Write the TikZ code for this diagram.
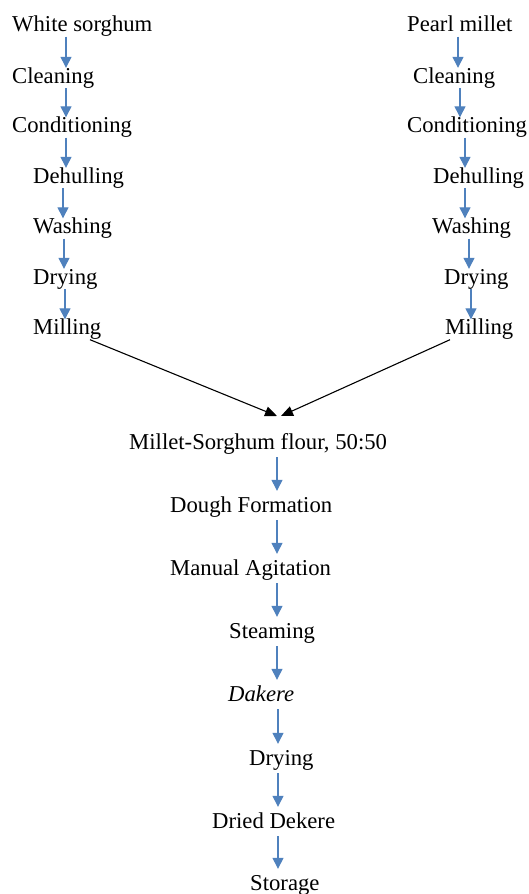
\documentclass[tikz,border=0pt]{standalone}
\usepackage{fontspec}
\setmainfont{Liberation Serif}
\usepackage{xcolor}
\usetikzlibrary{arrows.meta,calc}
\definecolor{flowblue}{HTML}{4F81BD}
\tikzset{
  lbl/.style={inner sep=0pt, anchor=base west, text height=15pt, text depth=5pt,
    font=\fontsize{22.7}{27}\selectfont},
  flow/.style={flowblue, line width=1.3pt, -{Triangle[length=11pt,width=11pt]}},
  cflow/.style={flow, shorten <=3pt, shorten >=6pt},
  merge/.style={black, line width=1.1pt, -{Triangle[length=12pt,width=10pt]}}
}
\begin{document}
\begin{tikzpicture}[x=1pt,y=-1pt]
			\useasboundingbox (0,0) rectangle (529,894);
			\node[lbl] (ws) at (12,31.5) {White sorghum};
			\node[lbl] (cl1) at (12,83) {Cleaning};
			\node[lbl] (co1) at (12,132.5) {Conditioning};
			\node[lbl] (dh1) at (33,183) {Dehulling};
			\node[lbl] (wa1) at (33,233.5) {Washing};
			\node[lbl] (dr1) at (33,284) {Drying};
			\node[lbl] (mi1) at (33,334.5) {Milling};
			\node[lbl] (pm) at (407,31.5) {Pearl millet};
			\node[lbl] (cl2) at (413,83) {Cleaning};
			\node[lbl] (co2) at (407,132.5) {Conditioning};
			\node[lbl] (dh2) at (433,183) {Dehulling};
			\node[lbl] (wa2) at (432,233.5) {Washing};
			\node[lbl] (dr2) at (444,284) {Drying};
			\node[lbl] (mi2) at (445,334.5) {Milling};
			\node[lbl] (flour) at (129,449) {Millet-Sorghum flour, 50:50};
			\node[lbl] (dough) at (170,512) {Dough Formation};
			\node[lbl] (agit) at (170,575) {Manual Agitation};
			\node[lbl] (steam) at (229,638) {Steaming};
			\node[lbl] (dakere) at (228,701) {\itshape Dakere};
			\node[lbl] (dry) at (249,765) {Drying};
			\node[lbl] (dried) at (212,828) {Dried Dekere};
			\node[lbl] (store) at (250,890) {Storage};
			\draw[flow] (ws.south -| 66,0) -- (cl1.north -| 66,0);
			\draw[flow] (cl1.south -| 66,0) -- (co1.north -| 66,0);
			\draw[flow] (co1.south -| 66,0) -- (dh1.north -| 66,0);
			\draw[flow] (dh1.south -| 63,0) -- (wa1.north -| 63,0);
			\draw[flow] (wa1.south -| 64,0) -- (dr1.north -| 64,0);
			\draw[flow] (dr1.south -| 65,0) -- (mi1.north -| 65,0);
			\draw[flow] (pm.south -| 458,0) -- (cl2.north -| 458,0);
			\draw[flow] (cl2.south -| 460,0) -- (co2.north -| 460,0);
			\draw[flow] (co2.south -| 465,0) -- (dh2.north -| 465,0);
			\draw[flow] (dh2.south -| 465,0) -- (wa2.north -| 465,0);
			\draw[flow] (wa2.south -| 469,0) -- (dr2.north -| 469,0);
			\draw[flow] (dr2.south -| 471,0) -- (mi2.north -| 471,0);
			\coordinate (mL) at (277,416);
			\coordinate (mR) at (281,416);
			\draw[merge] (mi1.south -| 90,0) -- (mL);
			\draw[merge] (mi2.south -| 450,0) -- (mR);
			\draw[cflow] (flour.south -| 277,0) -- (dough.north -| 277,0);
			\draw[cflow] (dough.south -| 277,0) -- (agit.north -| 277,0);
			\draw[cflow] (agit.south -| 277,0) -- (steam.north -| 277,0);
			\draw[cflow] (steam.south -| 277,0) -- (dakere.north -| 277,0);
			\draw[cflow] (dakere.south -| 278,0) -- (dry.north -| 278,0);
			\draw[cflow] (dry.south -| 278,0) -- (dried.north -| 278,0);
			\draw[cflow] (dried.south -| 278,0) -- (store.north -| 278,0);
		\end{tikzpicture}
\end{document}
